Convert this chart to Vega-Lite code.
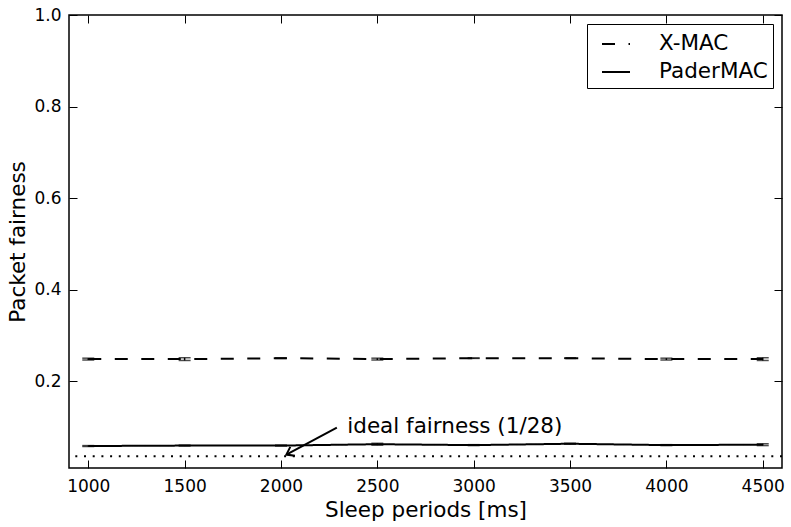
{
  "$schema": "https://vega.github.io/schema/vega-lite/v6.json",
  "width": 713,
  "height": 453,
  "autosize": "none",
  "padding": {"left": 69, "top": 15, "right": 9, "bottom": 59},
  "background": "white",
  "config": {
    "font": "DejaVu Sans",
    "view": {"stroke": "black", "strokeWidth": 1.5},
    "axis": {
      "domain": false,
      "grid": false,
      "labelFontSize": 17,
      "labelColor": "black",
      "titleFontSize": 21.5,
      "titleFontWeight": "normal",
      "titleColor": "black",
      "tickColor": "black",
      "tickWidth": 1,
      "tickSize": 8
    }
  },
  "resolve": {"axis": {"x": "independent", "y": "independent"}},
  "datasets": {
    "series": [
      {"sleep": 1000, "protocol": "X-MAC", "fairness": 0.248, "lo": 0.246, "hi": 0.250},
      {"sleep": 1500, "protocol": "X-MAC", "fairness": 0.248, "lo": 0.245, "hi": 0.251},
      {"sleep": 2000, "protocol": "X-MAC", "fairness": 0.250, "lo": 0.2495, "hi": 0.2505},
      {"sleep": 2500, "protocol": "X-MAC", "fairness": 0.248, "lo": 0.246, "hi": 0.250},
      {"sleep": 3000, "protocol": "X-MAC", "fairness": 0.250, "lo": 0.2495, "hi": 0.2505},
      {"sleep": 3500, "protocol": "X-MAC", "fairness": 0.250, "lo": 0.2495, "hi": 0.2505},
      {"sleep": 4000, "protocol": "X-MAC", "fairness": 0.248, "lo": 0.246, "hi": 0.250},
      {"sleep": 4500, "protocol": "X-MAC", "fairness": 0.248, "lo": 0.245, "hi": 0.251},
      {"sleep": 1000, "protocol": "PaderMAC", "fairness": 0.058, "lo": 0.057, "hi": 0.059},
      {"sleep": 1500, "protocol": "PaderMAC", "fairness": 0.059, "lo": 0.058, "hi": 0.060},
      {"sleep": 2000, "protocol": "PaderMAC", "fairness": 0.059, "lo": 0.058, "hi": 0.060},
      {"sleep": 2500, "protocol": "PaderMAC", "fairness": 0.062, "lo": 0.060, "hi": 0.064},
      {"sleep": 3000, "protocol": "PaderMAC", "fairness": 0.060, "lo": 0.059, "hi": 0.061},
      {"sleep": 3500, "protocol": "PaderMAC", "fairness": 0.063, "lo": 0.062, "hi": 0.064},
      {"sleep": 4000, "protocol": "PaderMAC", "fairness": 0.060, "lo": 0.059, "hi": 0.061},
      {"sleep": 4500, "protocol": "PaderMAC", "fairness": 0.061, "lo": 0.059, "hi": 0.063}
    ],
    "ideal": [{"value": 0.0357}],
    "note": [{"label": "ideal fairness (1/28)", "tx": 2344, "ty": 0.087, "x0": 2290, "y0": 0.098, "x1": 2028, "y1": 0.0393}]
  },
  "layer": [
    {
      "data": {"name": "ideal"},
      "mark": {"type": "rule", "color": "black", "strokeWidth": 2, "strokeDash": [2, 6.7]},
      "encoding": {
        "y": {"field": "value", "type": "quantitative", "scale": {"domain": [0.01, 1.0], "zero": false, "nice": false}, "axis": null}
      }
    },
    {
      "data": {"name": "series"},
      "mark": {"type": "line", "color": "black", "strokeWidth": 2},
      "encoding": {
        "x": {"field": "sleep", "type": "quantitative", "scale": {"domain": [900, 4600], "nice": false, "zero": false},
              "axis": {"orient": "bottom", "title": "Sleep periods [ms]", "values": [1000, 1500, 2000, 2500, 3000, 3500, 4000, 4500], "format": "d", "ticks": false, "labelPadding": 10, "titlePadding": 5}},
        "y": {"field": "fairness", "type": "quantitative", "scale": {"domain": [0.01, 1.0], "zero": false, "nice": false},
              "axis": {"orient": "left", "title": "Packet fairness", "values": [0.2, 0.4, 0.6, 0.8, 1.0], "format": ".1f", "ticks": false, "labelPadding": 8, "titlePadding": 4}},
        "strokeDash": {"field": "protocol", "type": "nominal",
          "scale": {"domain": ["X-MAC", "PaderMAC"], "range": [[13, 13.5], [1, 0]]},
          "legend": {"orient": "none", "legendX": 518, "legendY": 9, "title": null, "strokeColor": "black", "fillColor": "white",
                     "padding": 5, "symbolType": "stroke", "symbolSize": 784, "symbolStrokeWidth": 2, "symbolStrokeColor": "black", "symbolOffset": 9,
                     "labelFontSize": 21.5, "labelColor": "black", "labelOffset": 28, "rowPadding": 2, "labelLimit": 300,
                     "labelExpr": "datum.label + ' '"}}
      }
    },
    {
      "data": {"name": "series"},
      "mark": {"type": "rule", "color": "black", "strokeWidth": 1.5},
      "encoding": {
        "x": {"field": "sleep", "type": "quantitative", "scale": {"domain": [900, 4600], "nice": false, "zero": false},
              "axis": {"orient": "top", "offset": -453, "title": null, "labels": false, "values": [1000, 1500, 2000, 2500, 3000, 3500, 4000, 4500]}},
        "y": {"field": "lo", "type": "quantitative", "scale": {"domain": [0.01, 1.0], "zero": false, "nice": false},
              "axis": {"orient": "right", "offset": -713, "title": null, "labels": false, "values": [0.2, 0.4, 0.6, 0.8, 1.0]}},
        "y2": {"field": "hi"}
      }
    },
    {
      "data": {"name": "series"},
      "mark": {"type": "tick", "orient": "horizontal", "color": "black", "thickness": 1.5, "size": 12},
      "encoding": {
        "x": {"field": "sleep", "type": "quantitative", "scale": {"domain": [900, 4600], "nice": false, "zero": false},
              "axis": {"orient": "bottom", "offset": -453, "title": null, "labels": false, "values": [1000, 1500, 2000, 2500, 3000, 3500, 4000, 4500]}},
        "y": {"field": "lo", "type": "quantitative", "scale": {"domain": [0.01, 1.0], "zero": false, "nice": false},
              "axis": {"orient": "left", "offset": -713, "title": null, "labels": false, "values": [0.2, 0.4, 0.6, 0.8, 1.0]}}
      }
    },
    {
      "data": {"name": "series"},
      "mark": {"type": "tick", "orient": "horizontal", "color": "black", "thickness": 1.5, "size": 12},
      "encoding": {
        "x": {"field": "sleep", "type": "quantitative", "scale": {"domain": [900, 4600], "nice": false, "zero": false}, "axis": null},
        "y": {"field": "hi", "type": "quantitative", "scale": {"domain": [0.01, 1.0], "zero": false, "nice": false}, "axis": null}
      }
    },
    {
      "data": {"name": "note"},
      "mark": {"type": "text", "align": "left", "baseline": "alphabetic", "fontSize": 21.5, "color": "black"},
      "encoding": {
        "x": {"field": "tx", "type": "quantitative", "scale": {"domain": [900, 4600], "nice": false, "zero": false}, "axis": null},
        "y": {"field": "ty", "type": "quantitative", "scale": {"domain": [0.01, 1.0], "zero": false, "nice": false}, "axis": null},
        "text": {"field": "label"}
      }
    },
    {
      "data": {"name": "note"},
      "mark": {"type": "rule", "color": "black", "strokeWidth": 2},
      "encoding": {
        "x": {"field": "x0", "type": "quantitative", "scale": {"domain": [900, 4600], "nice": false, "zero": false}, "axis": null},
        "y": {"field": "y0", "type": "quantitative", "scale": {"domain": [0.01, 1.0], "zero": false, "nice": false}, "axis": null},
        "x2": {"field": "x1"},
        "y2": {"field": "y1"}
      }
    },
    {
      "data": {"name": "note"},
      "mark": {"type": "point", "shape": "M -1 -0.7 L 0 0 L -1 0.7", "filled": false, "color": "black", "strokeWidth": 2, "size": 200, "angle": 152, "opacity": 1},
      "encoding": {
        "x": {"field": "x1", "type": "quantitative", "scale": {"domain": [900, 4600], "nice": false, "zero": false}, "axis": null},
        "y": {"field": "y1", "type": "quantitative", "scale": {"domain": [0.01, 1.0], "zero": false, "nice": false}, "axis": null}
      }
    }
  ]
}
